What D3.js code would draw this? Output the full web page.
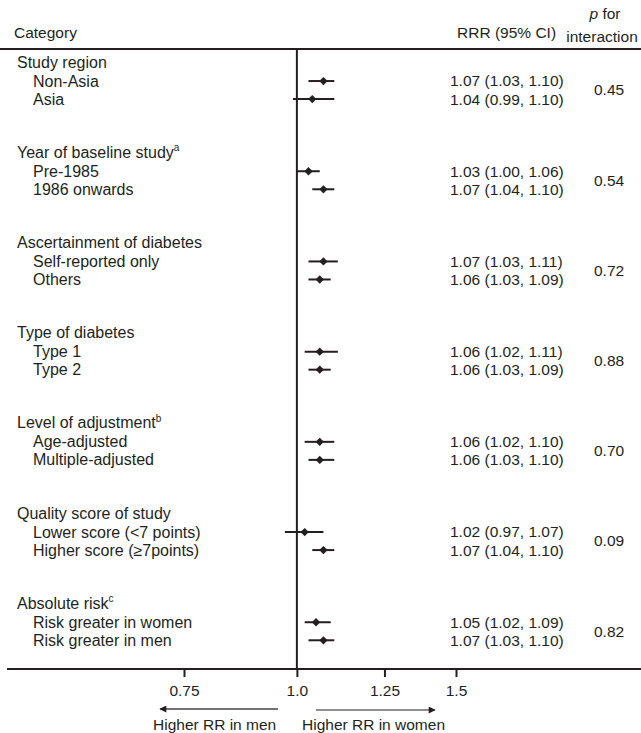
<!DOCTYPE html>
<html>
<head>
<meta charset="utf-8">
<script src="https://cdn.jsdelivr.net/npm/d3@7"></script>
<style>
	body { margin: 0; background: #fff; }
	text { font-family: "Liberation Sans", Arial, sans-serif; font-size: 15.5px; fill: #231f20; }
	text.lbl { font-size: 16px; }
</style>
</head>
<body>
<script>
// groups and their footnote marks
const groups = [
	"Study region",
	"Year of baseline study",
	"Ascertainment of diabetes",
	"Type of diabetes",
	"Level of adjustment",
	"Quality score of study",
	"Absolute risk"
];
const groupNotes = ["", "a", "", "", "b", "", "c"];
const pInteraction = ["0.45", "0.54", "0.72", "0.88", "0.70", "0.09", "0.82"];

// two subgroups per group
const labels = [
	"Non-Asia", "Asia",
	"Pre-1985", "1986 onwards",
	"Self-reported only", "Others",
	"Type 1", "Type 2",
	"Age-adjusted", "Multiple-adjusted",
	"Lower score (<7 points)", "Higher score (\u22657points)",
	"Risk greater in women", "Risk greater in men"
];
const rrr = [1.07, 1.04, 1.03, 1.07, 1.07, 1.06, 1.06, 1.06, 1.06, 1.06, 1.02, 1.07, 1.05, 1.07];
const lower = [1.03, 0.99, 1.00, 1.04, 1.03, 1.03, 1.02, 1.03, 1.02, 1.03, 0.97, 1.04, 1.02, 1.03];
const upper = [1.10, 1.10, 1.06, 1.10, 1.11, 1.09, 1.11, 1.09, 1.10, 1.10, 1.07, 1.10, 1.09, 1.10];

const ticks = [0.75, 1.0, 1.25, 1.5];
const tickLabels = ["0.75", "1.0", "1.25", "1.5"];

const config = {
	width: 641,
	height: 733,
	headerY: 49,
	axisY: 669,
	ink: "#231f20"
};

const svg = d3.select("body").append("svg")
	.attr("width", config.width)
	.attr("height", config.height);

const x = d3.scaleLog().domain([0.75, 1.5]).range([184, 456]);
// each group takes 5 slots: header, two rows, two blank
const y = d3.scaleLinear().domain([0, 32]).range([63, 63 + 32 * 18.04]);

const fmt = d3.format(".2f");

// header
svg.append("text").attr("x", 14).attr("y", 33).attr("dy", "0.35em").text("Category");
svg.append("text").attr("x", 457).attr("y", 33).attr("dy", "0.35em").text("RRR (95% CI)");
const pHead = svg.append("text").attr("x", 605).attr("y", 14).attr("dy", "0.35em").attr("text-anchor", "middle");
pHead.append("tspan").attr("font-style", "italic").text("p");
pHead.append("tspan").text(" for");
svg.append("text").attr("x", 602).attr("y", 37).attr("dy", "0.35em").attr("text-anchor", "middle").text("interaction");

svg.append("line")
	.attr("x1", 0).attr("x2", config.width)
	.attr("y1", config.headerY).attr("y2", config.headerY)
	.attr("stroke", config.ink).attr("stroke-width", 2);

// null line
svg.append("line")
	.attr("x1", x(1)).attr("x2", x(1))
	.attr("y1", config.headerY).attr("y2", config.axisY)
	.attr("stroke", config.ink).attr("stroke-width", 2);

// groups
groups.forEach((name, g) => {
	const t = svg.append("text").attr("class", "lbl")
		.attr("x", 17).attr("y", y(g * 5) - 1).attr("dy", "0.35em").text(name);
	if (groupNotes[g]) {
		t.append("tspan").attr("font-size", "10px").attr("dy", "-0.65em").text(groupNotes[g]);
	}
	svg.append("text")
		.attr("x", 594)
		.attr("y", (y(g * 5 + 1) + y(g * 5 + 2)) / 2)
		.attr("dy", "0.35em")
		.text(pInteraction[g]);
});

// rows
labels.forEach((label, i) => {
	const g = Math.floor(i / 2);
	const cy = y(g * 5 + 1 + (i % 2));

	svg.append("text").attr("class", "lbl").attr("x", 33).attr("y", cy).attr("dy", "0.35em").text(label);

	svg.append("line")
		.attr("x1", x(lower[i])).attr("x2", x(upper[i]))
		.attr("y1", cy).attr("y2", cy)
		.attr("stroke", config.ink).attr("stroke-width", 2);

	svg.append("path")
		.attr("d", d3.symbol(d3.symbolDiamond2, 44)())
		.attr("transform", `translate(${x(rrr[i])},${cy})`)
		.attr("fill", config.ink);

	svg.append("text").attr("x", 450).attr("y", cy).attr("dy", "0.35em")
		.text(`${fmt(rrr[i])} (${fmt(lower[i])}, ${fmt(upper[i])})`);
});

// bottom axis
svg.append("line")
	.attr("x1", 7).attr("x2", config.width)
	.attr("y1", config.axisY).attr("y2", config.axisY)
	.attr("stroke", config.ink).attr("stroke-width", 2);

const axis = d3.axisBottom(x)
	.tickValues(ticks)
	.tickFormat((d, i) => tickLabels[i])
	.tickSize(8)
	.tickPadding(8);

const ax = svg.append("g")
	.attr("transform", `translate(0,${config.axisY})`)
	.call(axis);
ax.select(".domain").remove();
ax.selectAll(".tick line").attr("stroke", config.ink).attr("stroke-width", 2);
ax.selectAll(".tick text").attr("font-size", "15.5px").attr("font-family", null).attr("fill", config.ink);

// direction arrows
svg.append("defs").append("marker")
	.attr("id", "head")
	.attr("viewBox", "0 0 10 10")
	.attr("refX", 9).attr("refY", 5)
	.attr("markerWidth", 9).attr("markerHeight", 7)
	.attr("markerUnits", "userSpaceOnUse")
	.attr("orient", "auto")
	.append("path")
	.attr("d", "M0,0L10,5L0,10Z")
	.attr("fill", config.ink);

svg.append("line")
	.attr("x1", 278).attr("x2", 160).attr("y1", 709).attr("y2", 709)
	.attr("stroke", "#444").attr("stroke-width", 1.5)
	.attr("marker-end", "url(#head)");
svg.append("line")
	.attr("x1", 316).attr("x2", 435).attr("y1", 710).attr("y2", 710)
	.attr("stroke", config.ink).attr("stroke-width", 1.2)
	.attr("marker-end", "url(#head)");

svg.append("text").attr("x", 153).attr("y", 725).attr("dy", "0.35em").text("Higher RR in men");
svg.append("text").attr("x", 302).attr("y", 725).attr("dy", "0.35em").text("Higher RR in women");
</script>
</body>
</html>
